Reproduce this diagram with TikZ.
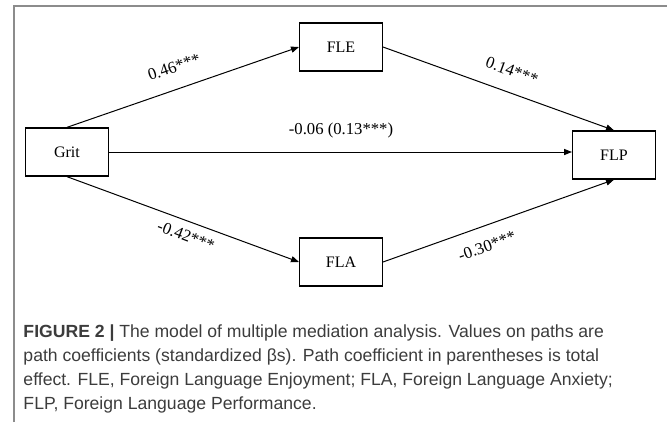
\documentclass[tikz,border=0pt]{standalone}
\usepackage{fontspec}
\setmainfont{Liberation Serif}
\newfontfamily\capfont{Liberation Sans}
\usetikzlibrary{arrows.meta}

\tikzset{every picture/.style={line width=0.75pt}}
\tikzset{
  varbox/.style={draw, line width=1pt, minimum width=62pt, minimum height=36pt, inner sep=0pt, font=\fontsize{12}{14}\selectfont},
  patharrow/.style={-{Triangle[length=6pt,width=4.6pt]}},
  coef/.style={inner sep=0.75pt, font=\fontsize{12.5}{15}\selectfont},
  capline/.style={anchor=base west, inner sep=0pt, font=\capfont\fontsize{13.2}{16}\selectfont, text={rgb, 255:red, 60; green, 60; blue, 60 }}
}

\begin{document}
\begin{tikzpicture}[x=0.75pt,y=0.75pt,yscale=-1,xscale=1]
\useasboundingbox (0,0) rectangle (667,422);

%Straight Lines: frame
\draw [color={rgb, 255:red, 140; green, 140; blue, 140 }, line width=1pt] (14,422) -- (14,6) -- (667,6) ;

%Shape: Rectangle
\node [varbox] (grit) at (67,152) {Grit};
%Shape: Rectangle
\node [varbox] (fle) at (341,47) {FLE};
%Shape: Rectangle
\node [varbox] (fla) at (341,262) {FLA};
%Shape: Rectangle
\node [varbox] (flp) at (614,155) {FLP};

%Straight Lines
\draw [patharrow] (grit.north) -- (fle.west) ;
%Straight Lines
\draw [patharrow] (grit.east) -- (grit.east -| flp.west) ;
%Straight Lines
\draw [patharrow] (grit.south) -- (fla.west) ;
%Straight Lines
\draw [patharrow] (fle.east) -- (flp.north) ;
%Straight Lines
\draw [patharrow] (fla.east) -- (flp.south) ;

% Text Node
\draw (174,67) node (cA) [coef, rotate=18.7] {0.46***};
% Text Node
\draw (512,71) node (cB) [coef, rotate=-20] {0.14***};
% Text Node
\draw (341,130) node (cC) [coef] {-0.06 (0.13***)};
% Text Node
\draw (186,236) node (cD) [coef, rotate=-21] {-0.42***};
% Text Node
\draw (487,246) node (cE) [coef, rotate=19.6] {-0.30***};

% Text Node
\draw (23,337) node (capA) [capline] {\textbf{FIGURE 2 |} The model of multiple mediation analysis. Values on paths are};
% Text Node
\draw (23,361) node (capB) [capline] {path coefficients (standardized βs). Path coefficient in parentheses is total};
% Text Node
\draw (23,385) node (capC) [capline] {effect. FLE, Foreign Language Enjoyment; FLA, Foreign Language Anxiety;};
% Text Node
\draw (23,409) node (capD) [capline] {FLP, Foreign Language Performance.};

\end{tikzpicture}
\end{document}
